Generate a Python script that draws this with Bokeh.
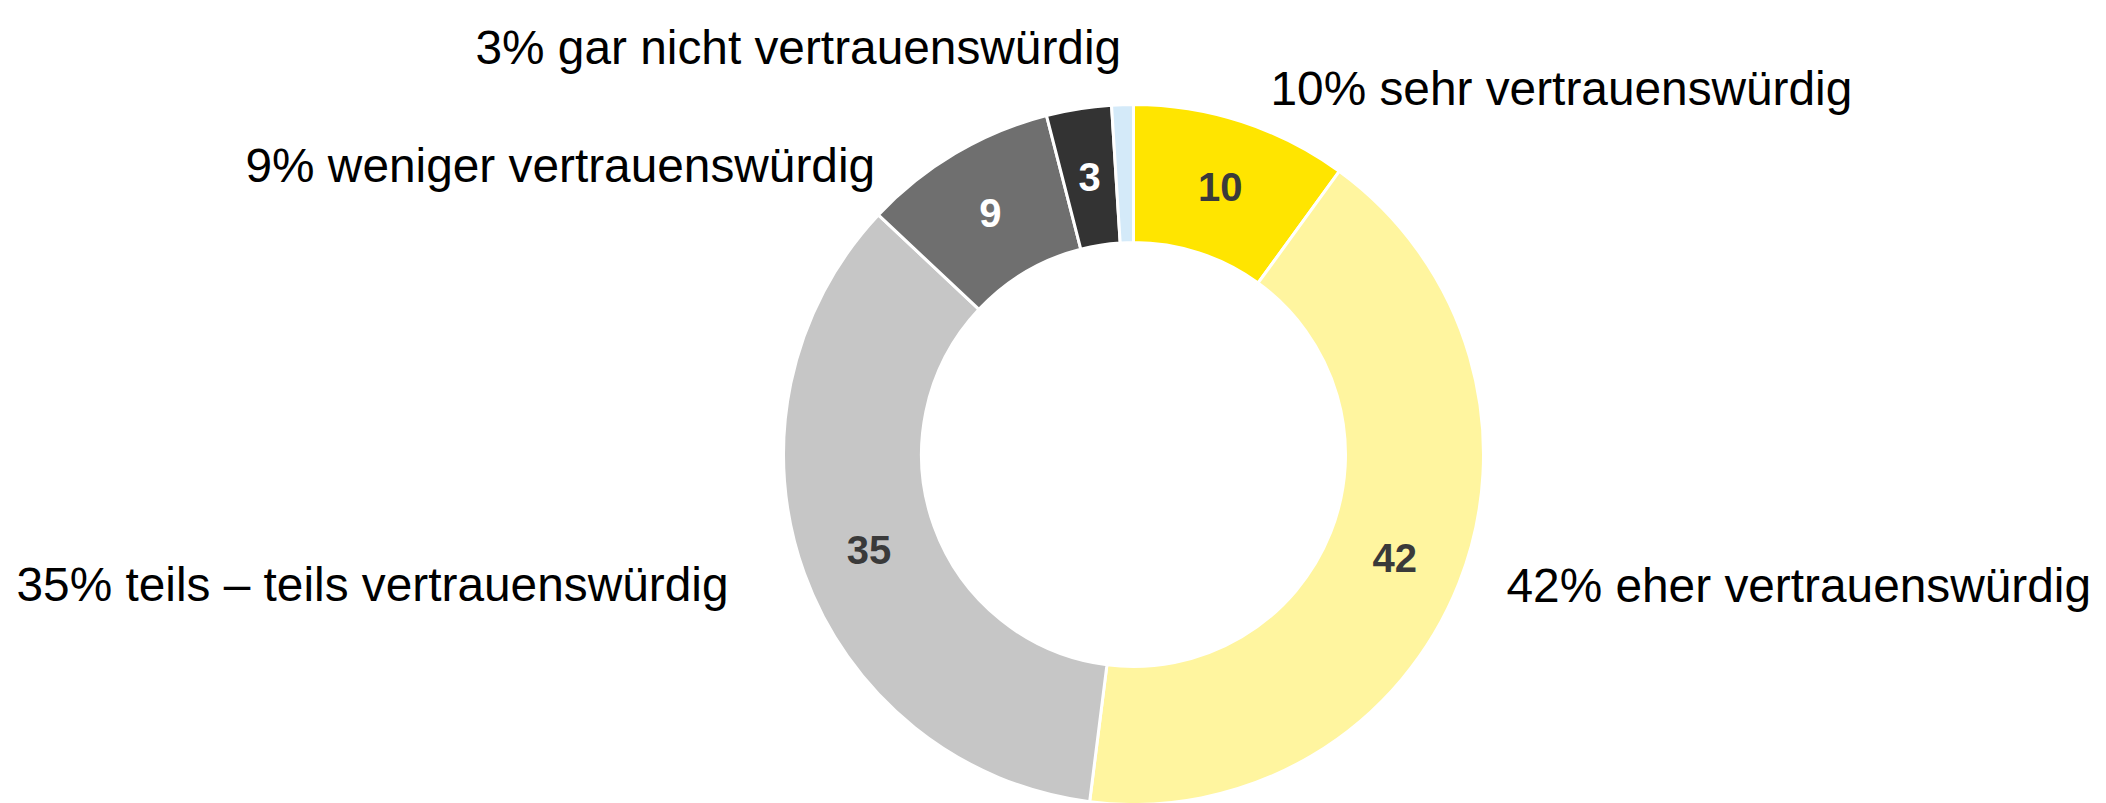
import numpy as np
from bokeh.plotting import figure
from bokeh.models import Range1d, ColumnDataSource
from bokeh.core.properties import value
from bokeh.embed import file_html
from bokeh.resources import INLINE

# ---- data ----
categories = ["sehr vertrauenswürdig", "eher vertrauenswürdig", "teils – teils vertrauenswürdig",
              "weniger vertrauenswürdig", "gar nicht vertrauenswürdig", "keine Angabe"]
values = [10, 42, 35, 9, 3, 1]
slice_labels = ["10", "42", "35", "9", "3", ""]
outer_labels = ["10% sehr vertrauenswürdig", "42% eher vertrauenswürdig",
                "35% teils – teils vertrauenswürdig", "9% weniger vertrauenswürdig",
                "3% gar nicht vertrauenswürdig"]

# ---- styles ----
colors = ["#FFE500", "#FFF59F", "#C6C6C6", "#6F6F6F", "#333333", "#D4EAF9"]
label_colors = ["#3a3a3a", "#3a3a3a", "#3a3a3a", "#ffffff", "#ffffff", "#ffffff"]

W, H = 2106, 803
cx, cy = 1133, H - 454
r_out, r_in = 350, 212

vals = np.array(values, dtype=float)
frac = vals / vals.sum()
cum_end = np.cumsum(frac)
cum_start = cum_end - frac
start = np.pi / 2 - 2 * np.pi * cum_start
end = np.pi / 2 - 2 * np.pi * cum_end
mid = (start + end) / 2
r_mid = (r_out + r_in) / 2

src = ColumnDataSource(dict(
    cat=categories, val=values, start=start, end=end, color=colors,
    lx=cx + r_mid * np.cos(mid), ly=cy + r_mid * np.sin(mid),
    lab=slice_labels, lcol=label_colors,
))

p = figure(width=W, height=H, x_range=Range1d(0, W), y_range=Range1d(0, H),
           output_backend="svg", toolbar_location=None,
           x_axis_location=None, y_axis_location=None, min_border=0)
p.grid.visible = False
p.outline_line_color = None
p.background_fill_color = "white"
p.border_fill_color = "white"

p.annular_wedge(x=cx, y=cy, inner_radius=r_in, outer_radius=r_out,
                start_angle="start", end_angle="end", direction="clock",
                fill_color="color", line_color="white", line_width=3, source=src)

p.text(x="lx", y="ly", text="lab", text_color="lcol", source=src,
       text_font=value("Liberation Sans"), text_font_style="bold",
       text_font_size="40px", text_align="center", text_baseline="middle")

# outer label positions (left x, baseline y from top)
outer_pos = [(1270, 88), (1506, 585), (16, 584), (245, 165), (475, 47)]
p.text(x=[q[0] for q in outer_pos], y=[H - q[1] for q in outer_pos], text=outer_labels,
       text_color="black", text_font=value("Liberation Sans"),
       text_font_size="47.8px", text_align="left", text_baseline="alphabetic")

open("out.html", "w").write(file_html(p, INLINE))
